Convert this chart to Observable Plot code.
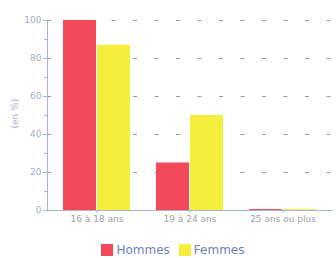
<!DOCTYPE html>
<html><head><meta charset="utf-8">
<script src="https://cdn.jsdelivr.net/npm/d3@7"></script>
<script src="https://cdn.jsdelivr.net/npm/@observablehq/plot@0.6"></script>
<style>
body{margin:0;background:#fff;font-family:"DejaVu Sans",sans-serif;}
#legend{display:flex;justify-content:center;align-items:center;gap:3px;font-size:12px;color:#6f7fb8;height:14px;margin-left:16px;margin-top:13px}
#legend span.sw{display:inline-block;width:12px;height:12px;margin-right:0px}
</style></head>
<body><div id="chart"></div>
<script>
const categories = ["16 à 18 ans", "19 à 24 ans", "25 ans ou plus"];
const hommes = [100, 25, 0.5];
const femmes = [87, 50, 0.5];
const seriesNames = ["Hommes", "Femmes"];
const seriesColors = ["#f24a5a", "#f6ee3c"];
const yTicks = [0, 20, 40, 60, 80, 100];
const yMinor = [10, 30, 50, 70, 90];

const data = [];
categories.forEach((c, i) => {
  data.push({cat: c, sex: seriesNames[0], v: hommes[i]});
  data.push({cat: c, sex: seriesNames[1], v: femmes[i]});
});

const axisColor = "#a8b4d6";
const plot = Plot.plot({
  width: 336, height: 230,
  marginLeft: 47, marginRight: 3, marginTop: 20, marginBottom: 20,
  style: {fontFamily: "DejaVu Sans, sans-serif", fontSize: "9px", color: "#9aa3bd", background: "#fff"},
  x: {domain: categories, paddingInner: 0.277, paddingOuter: 0.16, label: null},
  y: {domain: [0, 100], label: null},
  color: {domain: seriesNames, range: seriesColors},
  marks: [
    Plot.ruleY(yTicks.slice(1), {stroke: "#9a9a9a", strokeDasharray: "4,17.5", strokeWidth: 1}),
    Plot.barY(data.filter(d => d.sex === seriesNames[0]), {x: "cat", y: "v", fill: "sex", insetRight: 34}),
    Plot.barY(data.filter(d => d.sex === seriesNames[1]), {x: "cat", y: "v", fill: "sex", insetLeft: 34}),
    Plot.ruleY([0], {stroke: axisColor}),
    Plot.frame({anchor: "left", stroke: axisColor}),
    Plot.axisY({ticks: yTicks, tickSize: 4, tickPadding: 2, stroke: axisColor, fill: "#a3abc4"}),
    Plot.axisY(yMinor, {tickSize: 3, text: null, stroke: axisColor}),
    Plot.axisX({tickSize: 3, tickPadding: 2, stroke: axisColor, fill: "#a0a0a0"}),
    Plot.text(["(en %)"], {frameAnchor: "left", textAnchor: "middle", dx: -32, y: 51, rotate: -90, fill: "#a8b0c8", fontSize: 9})
  ]
});
document.getElementById("chart").appendChild(plot);
const lg = document.createElement("div");
lg.id = "legend";
lg.innerHTML = seriesNames.map((n, i) => `<span class="sw" style="background:${seriesColors[i]}"></span><span style="margin-right:6px">${n}</span>`).join("");
document.body.appendChild(lg);
</script></body></html>
